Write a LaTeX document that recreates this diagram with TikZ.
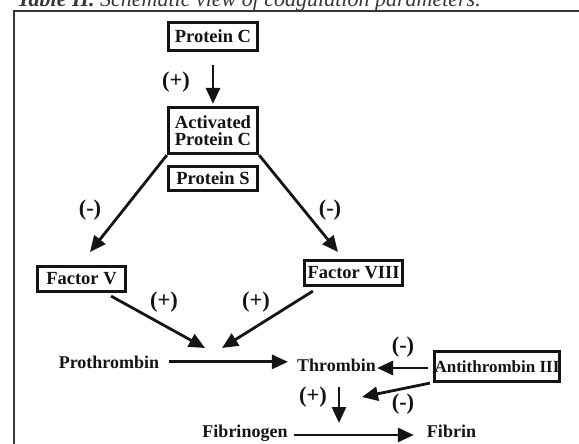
\documentclass[tikz,border=0pt]{standalone}
\usepackage{fontspec}
\setmainfont{Liberation Serif}
\usetikzlibrary{arrows.meta,positioning}
\definecolor{ink}{RGB}{20,20,20}
\definecolor{rule}{RGB}{55,55,55}

\begin{document}
\begin{tikzpicture}[x=1pt,y=-1pt,
    factor/.style={draw=ink,line width=3.2pt,text=ink,inner sep=0pt,align=center,
      font=\fontsize{18.5}{17}\selectfont\bfseries},
    plain/.style={text=ink,inner sep=0pt,anchor=base,font=\fontsize{18}{19}\selectfont\bfseries},
    sign/.style={text=ink,inner sep=0pt,font=\fontsize{22.5}{24}\selectfont\bfseries},
    arr/.style={draw=ink,line width=2.8pt,-{Triangle[length=16pt,width=14pt]}}]
  \useasboundingbox (0,0) rectangle (579,444);
  % caption and frame, cut by the page
  \node[anchor=base west,inner sep=0pt,text=rule,font=\fontsize{22}{24}\selectfont\itshape] (caption) at (17,7)
    {\textbf{Table II.} Schematic view of coagulation parameters.};
  \draw[rule,line width=1.3pt] (14,470) -- (14,11) -- (600,11);

  % boxes
  \node[factor,minimum width=89pt,minimum height=28pt] (pc) at (213,36.5) {Protein C};
  \node[factor,minimum width=89pt,minimum height=46pt] (apc) at (213,130.5) {Activated\\Protein C};
  \node[factor,minimum width=89pt,minimum height=24pt] (ps) at (213,178.5) {Protein S};
  \node[factor,minimum width=88pt,minimum height=25pt] (fv) at (81.5,279) {Factor V};
  \node[factor,minimum width=98pt,minimum height=25pt] (fviii) at (353.5,273) {Factor VIII};
  \node[factor,minimum width=125pt,minimum height=30pt,font=\fontsize{17}{18}\selectfont\bfseries] (atiii) at (497,366.5) {Antithrombin III};

  % plain texts
  \node[plain] (pro) at (109,368) {Prothrombin};
  \node[plain] (thr) at (336.5,371) {Thrombin};
  \node[plain] (fbg) at (245,437) {Fibrinogen};
  \node[plain] (fib) at (451.5,437) {Fibrin};

  % free arrow ends
  \coordinate (vtip) at (90,252);
  \coordinate (viiitip) at (338,252);
  \coordinate (actL) at (205,348);
  \coordinate (actR) at (222,348);
  \coordinate (fgtip) at (362,397);
  \coordinate (fgdown) at (339,423);
  \coordinate (atin) at ([shift={(-5pt,-1.5pt)}]atiii.west);

  \draw[arr,shorten >=2pt] ([yshift=-13pt]pc.south) -- (apc.north);
  \draw[arr] (apc.south west) -- (vtip);
  \draw[arr] (apc.south east) -- (viiitip);
  \draw[arr] ([shift={(-16pt,-3pt)}]fv.south east) -- (actL);
  \draw[arr] ([shift={(10pt,-4pt)}]fviii.south west) -- (actR);
  \draw[arr] ([xshift=10pt]pro.east) -- ([xshift=-9pt]thr.west |- pro.east);
  \draw[arr] (atin) -- ([xshift=1pt]thr.east |- atin);
  \draw[arr] ([xshift=-3pt]atiii.south west) -- (fgtip);
  \draw[arr] ([shift={(2.5pt,-16pt)}]thr.south) -- (fgdown);
  \draw[arr] ([shift={(6pt,2pt)}]fbg.base east) -- ([shift={(-13pt,2pt)}]fib.base west);

  % signs
  \foreach \x/\y/\t [count=\i] in {176/82/+, 90/210/-, 330/210/-, 164/302/+,
      256/302/+, 403/347/-, 403/404/-, 313/397/+}
    \node[sign] (sign\i) at (\x,\y) {(\t)};
\end{tikzpicture}
\end{document}
